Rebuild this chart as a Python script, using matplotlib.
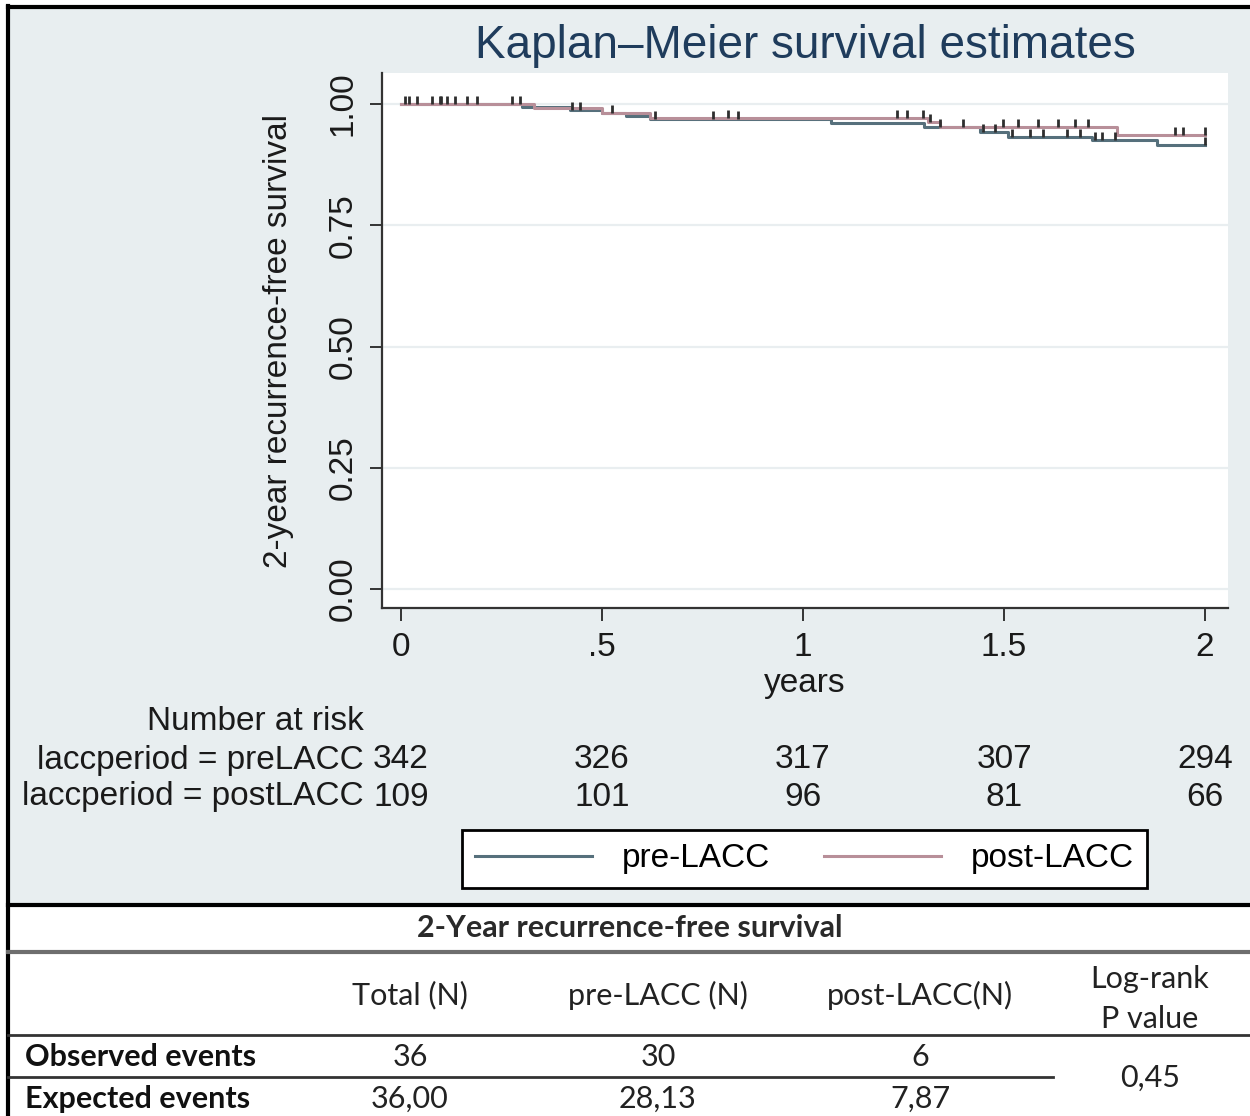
import numpy as np
import matplotlib
matplotlib.use("Agg")
import matplotlib.pyplot as plt
from matplotlib.path import Path
from matplotlib.patches import Rectangle
from matplotlib.transforms import blended_transform_factory

# --- DATA ---
pre_t = [0, 0.30, 0.42, 0.50, 0.56, 0.62, 1.07, 1.30, 1.44, 1.51, 1.72, 1.88, 2.0]
pre_s = [1.0, 0.994, 0.988, 0.982, 0.976, 0.970, 0.961, 0.953, 0.942, 0.932, 0.926, 0.916, 0.916]
post_t = [0, 0.33, 0.50, 0.62, 1.31, 1.34, 1.78, 2.0]
post_s = [1.0, 0.991, 0.981, 0.972, 0.962, 0.952, 0.936, 0.936]

pre_cens = [0.01, 0.04, 0.077, 0.097, 0.114, 0.134, 0.164, 0.189, 0.276, 0.425, 0.445,
            0.632, 0.776, 0.838, 1.398, 1.448, 1.478, 1.52, 1.565, 1.597, 1.657, 1.689,
            1.726, 1.744, 1.776, 2.0]
post_cens = [0.02, 0.10, 0.296, 0.525, 0.813, 1.234, 1.258, 1.298, 1.316, 1.341, 1.498,
             1.535, 1.585, 1.634, 1.677, 1.709, 1.925, 1.945, 2.0]

risk_times = [0, 0.5, 1, 1.5, 2]
risk_pre = [342, 326, 317, 307, 294]
risk_post = [109, 101, 96, 81, 66]

xtick_vals = [0, 0.5, 1, 1.5, 2]
xtick_labels = ["0", ".5", "1", "1.5", "2"]
ytick_vals = [0, 0.25, 0.5, 0.75, 1.0]
ytick_labels = ["0.00", "0.25", "0.50", "0.75", "1.00"]

tbl_cols = ["Total (N)", "pre-LACC (N)", "post-LACC(N)"]
tbl_observed = ["36", "30", "6"]
tbl_expected = ["36,00", "28,13", "7,87"]
tbl_pvalue = "0,45"

# --- STYLE ---
W, H = 1250, 1116
PRE_COLOR = "#56707c"
POST_COLOR = "#b88f99"
CENS_COLOR = "#2e2e2e"
PANEL_BG = "#e8eef0"
FS = 24
plt.rcParams["font.family"] = ["Liberation Sans", "DejaVu Sans"]

fig = plt.figure(figsize=(W / 100, H / 100), dpi=100)

# pixel overlay for backgrounds, borders and free text
ov = fig.add_axes([0, 0, 1, 1])
ov.set_xlim(0, W)
ov.set_ylim(H, 0)
ov.axis("off")
ov.set_zorder(0)

ov.add_patch(Rectangle((8, 7), W - 8, 898, facecolor=PANEL_BG, edgecolor="none"))
ov.add_patch(Rectangle((8, 905), W - 8, H - 905, facecolor="white", edgecolor="none"))
ov.plot([8, 8], [6, H], color="black", lw=3)
ov.plot([8, W], [7, 7], color="black", lw=3)

# --- KM plot ---
L, R, T, B = 382, 1228, 73, 608
ax = fig.add_axes([L / W, 1 - B / H, (R - L) / W, (B - T) / H])
ax.set_zorder(1)
ax.set_facecolor("white")
ax.set_xlim(-0.047, 2.057)
ax.set_ylim(-0.039, 1.064)

ax.step(pre_t, pre_s, where="post", color=PRE_COLOR, lw=2.2, label="pre-LACC", zorder=3)
ax.step(post_t, post_s, where="post", color=POST_COLOR, lw=2.2, label="post-LACC", zorder=3)


def surv_at(times, surv, t):
    idx = np.searchsorted(times, t, side="right") - 1
    return np.array(surv)[idx]


tick_up = Path([(0, 0), (0, 1)], [Path.MOVETO, Path.LINETO])
ax.plot(pre_cens, surv_at(pre_t, pre_s, pre_cens), ls="none", marker=tick_up,
        markersize=11, mec=CENS_COLOR, mew=2, zorder=4)
ax.plot(post_cens, surv_at(post_t, post_s, post_cens), ls="none", marker=tick_up,
        markersize=11, mec=CENS_COLOR, mew=2, zorder=4)

for side in ["top", "right"]:
    ax.spines[side].set_visible(False)
for side in ["left", "bottom"]:
    ax.spines[side].set_color("#333333")
    ax.spines[side].set_linewidth(1.6)

ax.set_xticks(xtick_vals)
ax.set_xticklabels(xtick_labels)
ax.set_yticks(ytick_vals)
ax.set_yticklabels(ytick_labels, rotation=90, va="center")
ax.tick_params(axis="both", direction="out", length=9, width=1.4, color="#333333",
               labelsize=FS, labelcolor="#1a1a1a")
ax.tick_params(axis="x", pad=8)
ax.tick_params(axis="y", pad=8)
ax.yaxis.grid(True, color="#e9eef0", lw=1.6)
ax.set_axisbelow(True)

ax.set_ylabel("2-year recurrence-free survival", fontsize=FS, color="#1a1a1a")
ax.yaxis.set_label_coords((294 - L) / (R - L), 0.5)
ax.set_xlabel("years", fontsize=FS, color="#1a1a1a")
ax.xaxis.set_label_coords(0.5, -(668 - B) / (B - T))

ov.text(805, 46, "Kaplan\u2013Meier survival estimates", fontsize=33, color="#1f3c5c",
        ha="center", va="center")

# --- Number at risk ---
risk_tr = blended_transform_factory(ax.transData, ov.transData)
ov.text(255, 722, "Number at risk", fontsize=FS, ha="center", va="center", color="#1a1a1a")
ov.text(364, 760, "laccperiod = preLACC", fontsize=FS, ha="right", va="center", color="#1a1a1a")
ov.text(364, 797, "laccperiod = postLACC", fontsize=FS, ha="right", va="center", color="#1a1a1a")
for t, n1, n2 in zip(risk_times, risk_pre, risk_post):
    ov.text(t, 760, str(n1), transform=risk_tr, fontsize=FS, ha="center", va="center", color="#1a1a1a")
    ov.text(t, 797, str(n2), transform=risk_tr, fontsize=FS, ha="center", va="center", color="#1a1a1a")

# --- Legend ---
leg = fig.legend(loc="center", ncol=2, mode="expand",
                 bbox_to_anchor=(462 / W, 1 - 890 / H, 685 / W, 62 / H),
                 fontsize=FS, handlelength=3.5, handletextpad=0.9, borderaxespad=0,
                 fancybox=False, framealpha=1, edgecolor="black")
leg.get_frame().set_linewidth(2)

# --- Table ---
TFONT = ["Lato", "DejaVu Sans"]
TFS = 22
ov.plot([8, W], [905, 905], color="black", lw=3)
ov.plot([8, W], [952, 952], color="#6e6e6e", lw=3)
ov.plot([8, W], [1035, 1035], color="#333333", lw=2)
ov.plot([8, 1053], [1077, 1077], color="#333333", lw=2)

ov.text(630, 928, "2-Year recurrence-free survival", fontsize=TFS, fontweight="bold",
        family=TFONT, ha="center", va="center", color="#2a2a2a")
col_x = [410, 658, 920]
for x, lab, o, e in zip(col_x, tbl_cols, tbl_observed, tbl_expected):
    ov.text(x, 995, lab, fontsize=TFS, family=TFONT, ha="center", va="center", color="#222222")
    ov.text(x, 1057, o, fontsize=TFS, family=TFONT, ha="center", va="center", color="#222222")
    ov.text(x, 1099, e, fontsize=TFS, family=TFONT, ha="center", va="center", color="#222222")
ov.text(1150, 999, "Log-rank\nP value", fontsize=TFS, family=TFONT, ha="center", va="center",
        linespacing=1.5, color="#222222")
ov.text(1150, 1078, tbl_pvalue, fontsize=TFS, family=TFONT, ha="center", va="center", color="#222222")
ov.text(25, 1057, "Observed events", fontsize=TFS, fontweight="bold", family=TFONT,
        ha="left", va="center", color="#111111")
ov.text(25, 1099, "Expected events", fontsize=TFS, fontweight="bold", family=TFONT,
        ha="left", va="center", color="#111111")

fig.savefig("out.png", dpi=100)
